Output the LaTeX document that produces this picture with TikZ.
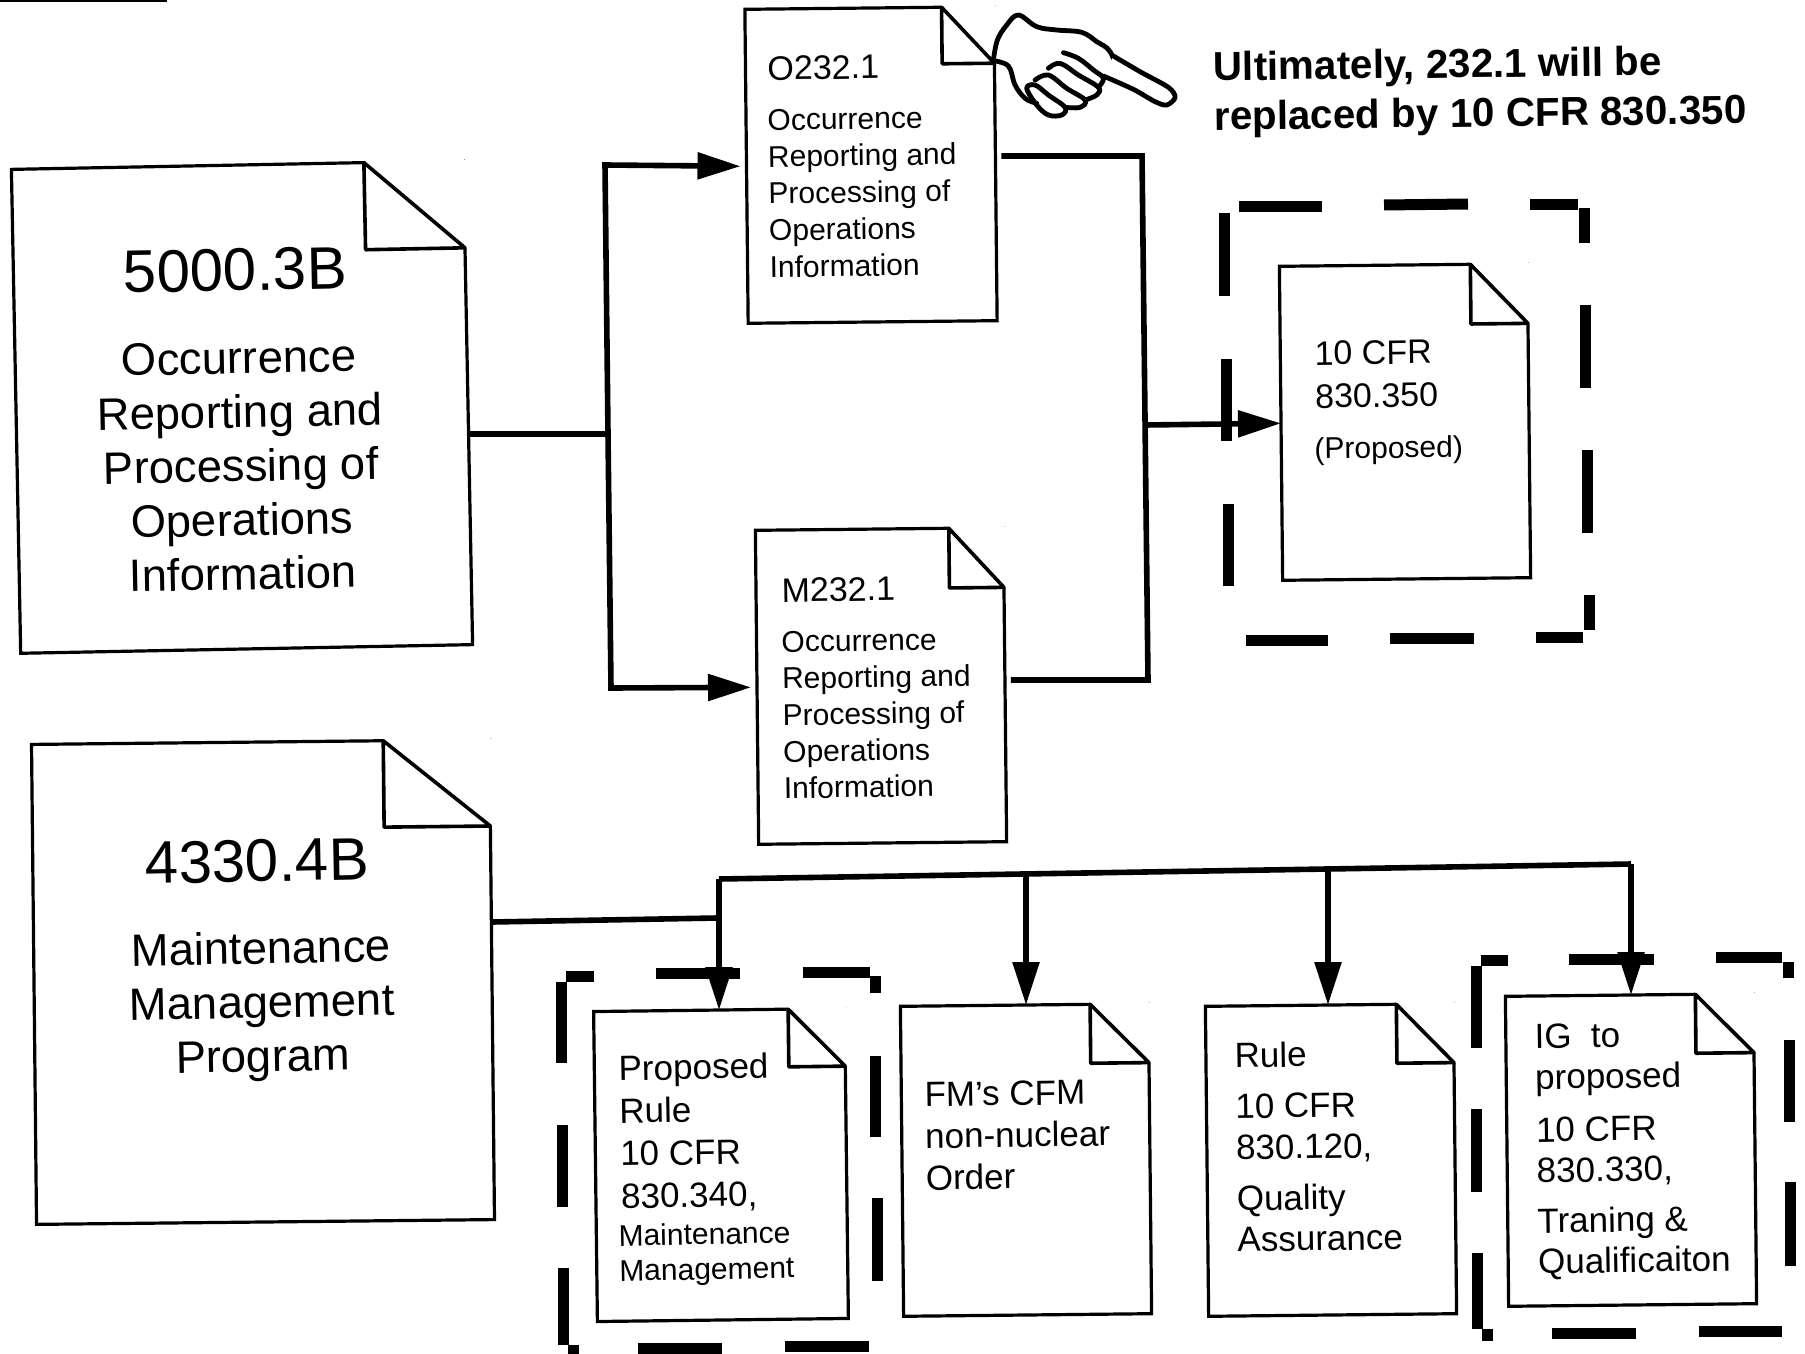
\documentclass[tikz,border=0pt]{standalone}
\usepackage{fontspec}
\setmainfont{Liberation Sans}
\usetikzlibrary{arrows.meta,calc}

\newcommand{\docfold}[3]{
  \coordinate (a) at ($(#1.north east)!#2!(#1.north west)$);
  \coordinate (b) at ($(#1.north east)!#3!(#1.south east)$);
  \filldraw[white,line width=2.4pt,line join=bevel] (a) -- (#1.north east) -- (b) -- cycle;
  \draw[line width=1.8pt,line join=round] (a) -- (b) -- ($(a)+(b)-(#1.north east)$) -- cycle;
}

\begin{document}
\begin{tikzpicture}[x=.5pt,y=-.5pt,>={Triangle[length=21.5pt,width=13pt]},
  doc node/.style={draw,fill=white,line width=1.6pt,inner sep=0pt,outer sep=0pt},
  text node/.style 2 args={anchor=north west,inner sep=0pt,align=left,font=\fontsize{#1}{#2}\selectfont},
  title node/.style={inner sep=0pt,align=center,font=\fontsize{30}{36}\selectfont},
  body node/.style={inner sep=0pt,align=center,font=\fontsize{22.7}{27}\selectfont},
  main line/.style={line width=2.8pt},
  dash bar/.style={line width=5.5pt}]
  \useasboundingbox (0,0) rectangle (1805,1354);
  \draw[line width=1pt] (0,1) -- (167,1);

  % dashed frames
  \foreach \xa/\ya/\xb/\yb in {1239/206/1322/206,1384/205/1468/204,1530/204/1578/204,1584/208/1584/243,
      1585/305/1585/388,1587/450/1587/533,1589/595/1589/630,1536/637/1583/637,1390/638/1474/638,
      1246/640/1328/640,1228/504/1228/586,1226/359/1226/441,1224/213/1224/296,
      566/976/594/976,561/982/561/1063,562/1125/562/1207,563/1268/563/1345,573/1345/573/1354,
      638/1348/722/1348,785/1346/869/1346,877/1198/877/1281,875/1056/875/1137,875/976/875/993,
      803/972/870/972,656/973/740/973,
      1481/960/1508/960,1476/966/1476/1048,1476/1109/1476/1192,1477/1253/1477/1329,1487/1329/1487/1341,
      1552/1333/1636/1333,1699/1331/1782/1331,1716/957/1782/957,1788/962/1788/978,
      1789/1040/1789/1122,1790/1182/1790/1266,1569/959/1654/959}
    \draw[dash bar] (\xa,\ya) -- (\xb,\yb);

  \node[doc node,minimum width=226pt,minimum height=242pt,rotate=1.1] (5000) at (242,407) {};
  \docfold{5000}{.22}{.18}
  \node[doc node,minimum width=229pt,minimum height=240pt,rotate=.6] (4330) at (263,982) {};
  \docfold{4330}{.232}{.18}
  \node[doc node,minimum width=124.5pt,minimum height=157pt,rotate=.6] (O232) at (871,165) {};
  \docfold{O232}{.21}{.18}
  \node[doc node,minimum width=124pt,minimum height=157pt,rotate=.6] (M232) at (881,686) {};
  \docfold{M232}{.22}{.19}
  \node[doc node,minimum width=124pt,minimum height=157pt,rotate=.6] (CFR350) at (1405,422) {};
  \docfold{CFR350}{.23}{.19}
  \node[doc node,minimum width=125.5pt,minimum height=155pt,rotate=.7] (CFR340) at (721,1165) {};
  \docfold{CFR340}{.225}{.186}
  \node[doc node,minimum width=124pt,minimum height=155pt,rotate=.6] (FM) at (1026,1160) {};
  \docfold{FM}{.235}{.19}
  \node[doc node,minimum width=124pt,minimum height=155pt,rotate=.6] (CFR120) at (1331,1160) {};
  \docfold{CFR120}{.23}{.19}
  \node[doc node,minimum width=124pt,minimum height=155pt,rotate=.6] (IG) at (1631,1150) {};
  \docfold{IG}{.234}{.19}

  % connectors
  \coordinate (split) at (608,434);
  \coordinate (splita) at (605,165);
  \coordinate (splitb) at (611,688);
  \coordinate (merge) at (1145,425);
  \coordinate (mergea) at (1142,156);
  \coordinate (mergeb) at (1148,680);
  \coordinate (jointa) at (493,922);
  \coordinate (joint) at (717,918);
  \coordinate (bus1) at (719,879);
  \coordinate (bus2) at (1026,874);
  \coordinate (bus3) at (1328,869);
  \coordinate (bus4) at (1631,864);

  \draw[main line] (5000.east |- split) -- (split);
  \draw[main line,->,shorten >=3pt] (split) -- (splita) -- (O232.west);
  \draw[main line,->,shorten >=3pt] (split) -- (splitb) -- (M232.west);
  \draw[main line] ([xshift=3pt]O232.east |- mergea) -- (mergea) -- (mergeb) -- ([xshift=3pt]M232.east |- mergeb);
  \draw[main line,->] (merge) -- (CFR350.west);
  \draw[main line] (4330.east |- jointa) -- (joint);
  \draw[main line] (bus1) -- (bus4);
  \path[main line,->]
    (bus1) edge (bus1 |- CFR340.north)
    (bus2) edge (bus2 |- FM.north)
    (bus3) edge (bus3 |- CFR120.north)
    (bus4) edge (bus4 |- IG.north);

  % texts
  \node[title node,rotate=1.1] (5000 title) at (235,270) {5000.3B};
  \node[body node,rotate=1.1] (5000 body) at (241,466) {Occurrence\\Reporting and\\Processing of\\Operations\\Information};
  \node[title node,rotate=1.1] (4330 title) at (257,861) {4330.4B};
  \node[body node,rotate=1.1] (4330 body) at (262,1006) {Maintenance\\Management\\Program};
  \node[text node={17}{21},rotate=.8] (O232 title) at (767,56) {O232.1};
  \node[text node={15}{18.4},rotate=.8] (O232 body) at (767,109) {Occurrence\\Reporting and\\Processing of\\Operations\\Information};
  \node[text node={17}{21},rotate=.9] (M232 title) at (781,578) {M232.1};
  \node[text node={15}{18.3},rotate=.9] (M232 body) at (781,631) {Occurrence\\Reporting and\\Processing of\\Operations\\Information};
  \node[text node={17}{21.5},rotate=.8] (CFR350 title) at (1314,341) {10 CFR\\830.350};
  \node[text node={15}{18},rotate=.8] (CFR350 note) at (1314,437) {(Proposed)};
  \node[text node={17.5}{21.3},rotate=1.1] (CFR340 title) at (618,1055) {Proposed\\Rule\\10 CFR\\830.340,};
  \node[text node={15}{17.5},rotate=1.1] (CFR340 note) at (618,1224) {Maintenance\\Management};
  \node[text node={17.5}{20.8},rotate=.9] (FM body) at (924,1082) {FM's CFM\\non-nuclear\\Order};
  \node[text node={17.5}{20.5},rotate=.9] (CFR120 body) at (1234,1042) {Rule\\[5pt]10 CFR\\830.120,\\[5pt]Quality\\Assurance};
  \node[text node={17.5}{20.3},rotate=.9] (IG body) at (1534,1024) {IG\ \ to\\proposed\\[6pt]10 CFR\\830.330,\\[5pt]Traning \&\\Qualificaiton};
  \node[text node={20.2}{24.7},rotate=.7,font=\fontsize{20.2}{24.7}\selectfont\bfseries] (note) at (1213,51) {Ultimately, 232.1 will be\\replaced by 10 CFR 830.350};

  % pointing hand
  \begin{scope}[shift={(720,0)},x=.1667pt,y=-.1667pt,line width=2.4pt,line join=round,line cap=round]
    \draw[fill=white] plot[smooth,tension=.6] coordinates {(820,180) (832,120) (860,75) (895,45) (950,80) (1010,90) (1085,97) (1130,125) (1170,155) (1200,232)};
    \draw[fill=white] plot[smooth,tension=.5] coordinates {(1180,168) (1260,215) (1345,262) (1365,292) (1340,315) (1305,305) (1240,268) (1150,228)};
    \draw plot[smooth,tension=.6] coordinates {(820,182) (865,198) (885,255) (915,295) (950,310)};
    \draw plot[smooth cycle,tension=.6] coordinates {(920,265) (945,255) (985,285) (1035,322) (1025,345) (985,345) (950,315)};
    \draw plot[smooth,tension=.6] coordinates {(945,240) (985,225) (1040,265) (1095,300) (1080,322) (1035,322)};
    \draw plot[smooth,tension=.6] coordinates {(985,205) (1020,190) (1075,225) (1135,262) (1130,285) (1095,300)};
    \draw plot[smooth,tension=.6] coordinates {(1030,158) (1075,175) (1120,210) (1150,235) (1135,262)};
  \end{scope}
\end{tikzpicture}
\end{document}
